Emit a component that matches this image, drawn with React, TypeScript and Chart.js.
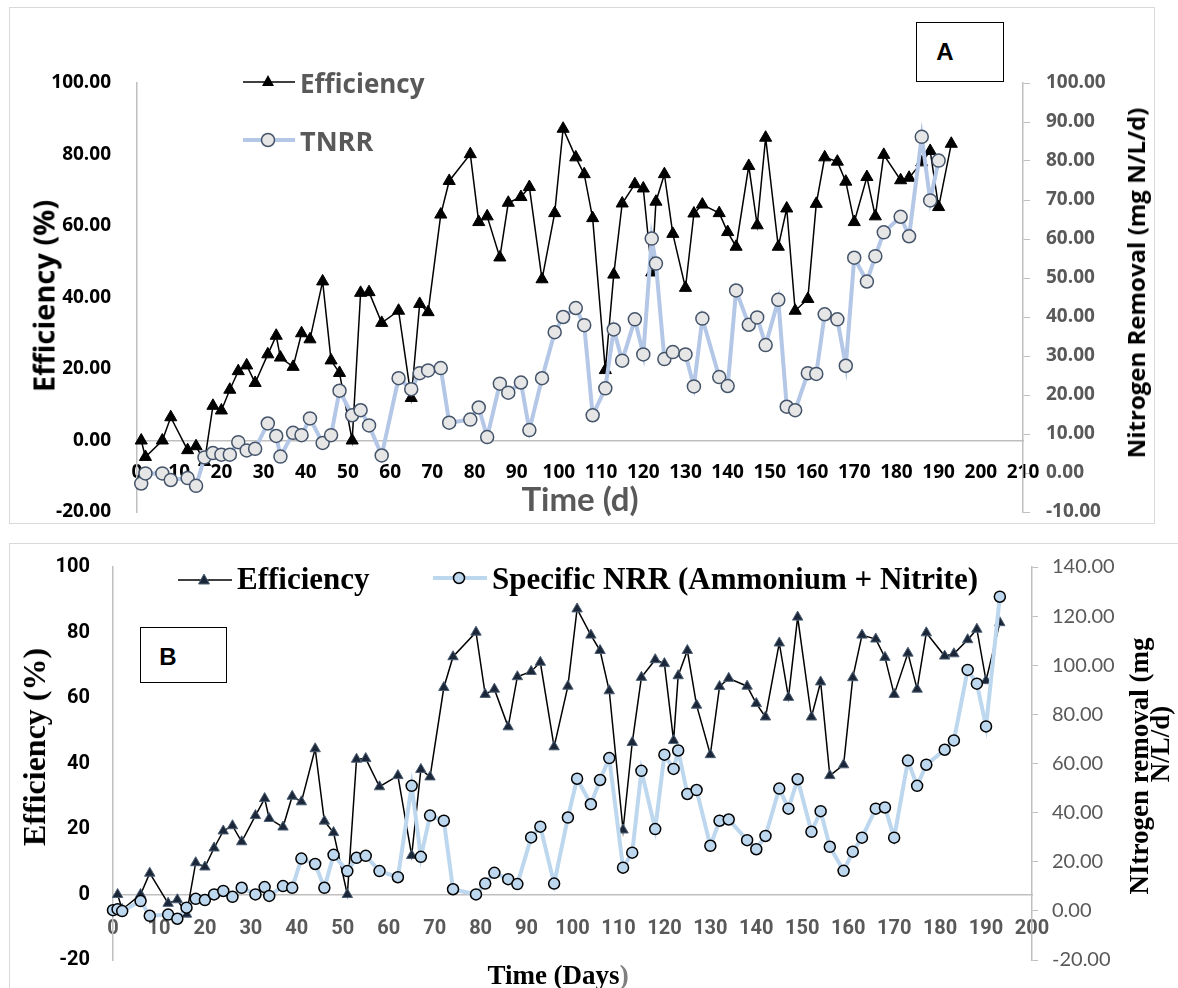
import React, { useEffect, useRef } from 'react';
import { Chart, registerables } from 'chart.js';

Chart.register(...registerables);

// ---------- data ----------
const effDays = [1, 2, 6, 8, 12, 14, 16, 18, 20, 22, 24, 26, 28, 31, 33, 34, 37, 39, 41, 44, 46, 48, 51, 53, 55, 58, 62, 65, 67, 69, 72, 74, 79, 81, 83, 86, 88, 91, 93, 96, 99, 101, 104, 106, 108, 111, 113, 115, 118, 120, 122, 123, 125, 127, 130, 132, 134, 138, 140, 142, 145, 147, 149, 152, 154, 156, 159, 161, 163, 166, 168, 170, 173, 175, 177, 181, 183, 186, 188, 190, 193];
const efficiency = [0, -4.6, 0, 6.5, -2.7, -1.6, -6, 9.7, 8.4, 14.2, 19.4, 21, 16.1, 24.1, 29.3, 23.2, 20.6, 30, 28.3, 44.5, 22.4, 18.9, 0, 41.3, 41.5, 32.9, 36.3, 11.9, 38.2, 35.9, 63.2, 72.6, 80.1, 61.1, 62.7, 51.2, 66.5, 68.1, 70.9, 45.1, 63.6, 87.2, 79.2, 74.5, 62.2, 19.7, 46.4, 66.3, 71.7, 70.5, 47, 66.8, 74.5, 57.8, 42.7, 63.5, 66, 63.6, 58.3, 54.2, 76.8, 60.2, 84.7, 54.2, 64.9, 36.3, 39.6, 66.2, 79.2, 78, 72.4, 61.1, 73.7, 62.7, 79.9, 72.8, 73.5, 77.8, 81, 65.3, 83];

const tnrrDays = [1, 2, 6, 8, 12, 14, 16, 18, 20, 22, 24, 26, 28, 31, 33, 34, 37, 39, 41, 44, 46, 48, 51, 53, 55, 58, 62, 65, 67, 69, 72, 74, 79, 81, 83, 86, 88, 91, 93, 96, 99, 101, 104, 106, 108, 111, 113, 115, 118, 120, 122, 123, 125, 127, 130, 132, 134, 138, 140, 142, 145, 147, 149, 152, 154, 156, 159, 161, 163, 166, 168, 170, 173, 175, 177, 181, 183, 186, 188, 190];
const tnrr = [-2.7, -0.1, -0.1, -1.8, -1.3, -3.3, 4, 5.1, 4.7, 4.7, 7.9, 5.8, 6.2, 12.7, 9.5, 4.2, 10.3, 9.7, 14, 7.7, 9.7, 21.1, 14.8, 16.1, 12.2, 4.5, 24.3, 21.5, 25.6, 26.3, 26.9, 12.9, 13.7, 16.8, 9.2, 22.9, 20.6, 23.2, 11, 24.3, 36.1, 40, 42.3, 37.9, 14.8, 21.7, 36.8, 28.8, 39.4, 30.4, 60.1, 53.7, 29.2, 31, 30.4, 22.2, 39.6, 24.6, 22.3, 46.8, 38, 39.9, 32.8, 44.4, 17, 16.1, 25.6, 25.4, 40.7, 39.4, 27.5, 55.2, 49.1, 55.6, 61.7, 65.7, 60.7, 86.2, 69.9, 80.1];

const snrrDays = [0, 1, 2, 6, 8, 12, 14, 16, 18, 20, 22, 24, 26, 28, 31, 33, 34, 37, 39, 41, 44, 46, 48, 51, 53, 55, 58, 62, 65, 67, 69, 72, 74, 79, 81, 83, 86, 88, 91, 93, 96, 99, 101, 104, 106, 108, 111, 113, 115, 118, 120, 122, 123, 125, 127, 130, 132, 134, 138, 140, 142, 145, 147, 149, 152, 154, 156, 159, 161, 163, 166, 168, 170, 173, 175, 177, 181, 183, 186, 188, 190, 193];
const snrr = [0.3, 0.7, -0.1, 4, -2, -1.5, -3.2, 1.3, 4.9, 4.4, 6.7, 8.1, 5.7, 9.4, 6.7, 9.7, 6.1, 10.1, 9.4, 21.3, 19.1, 9.4, 22.8, 16.2, 21.6, 22.4, 16.2, 13.7, 50.9, 22, 38.8, 36.7, 8.8, 6.7, 11.1, 15.5, 12.9, 10.9, 29.9, 34.3, 11.1, 38, 53.8, 43.4, 53.3, 62.2, 17.6, 23.7, 57, 33.3, 63.6, 57.8, 65.3, 47.6, 49.2, 26.5, 36.7, 37.2, 28.8, 25.1, 30.5, 49.8, 41.6, 53.6, 32.2, 40.6, 26.1, 16.3, 24.1, 29.8, 41.6, 42.1, 29.8, 61.2, 50.9, 59.5, 65.6, 69.4, 98.1, 92.5, 75.1, 127.9];

const xTicksA = [0, 10, 20, 30, 40, 50, 60, 70, 80, 90, 100, 110, 120, 130, 140, 150, 160, 170, 180, 190, 200, 210];
const yLeftTicksA = [-20, 0, 20, 40, 60, 80, 100];
const yRightTicksA = [-10, 0, 10, 20, 30, 40, 50, 60, 70, 80, 90, 100];
const xTicksB = [0, 10, 20, 30, 40, 50, 60, 70, 80, 90, 100, 110, 120, 130, 140, 150, 160, 170, 180, 190, 200];
const yLeftTicksB = [-20, 0, 20, 40, 60, 80, 100];
const yRightTicksB = [-20, 0, 20, 40, 60, 80, 100, 120, 140];

// ---------- helpers ----------
const pts = (xs: number[], ys: number[]) => xs.map((x, i) => ({ x, y: ys[i] }));
const setTicks = (vals: number[]) => (scale: any) => {
  scale.ticks = vals.map((v) => ({ value: v }));
};
const GRAY_AXIS = '#BFBFBF';
const CAL = 'Lato, "Open Sans", sans-serif';
const OPEN = '"Open Sans", sans-serif';
const ROBO = 'Roboto, sans-serif';
const SERIF = '"Liberation Serif", "DejaVu Serif", serif';

function makeChartA(canvas: HTMLCanvasElement) {
  return new Chart(canvas, {
    type: 'scatter',
    data: {
      datasets: [
        {
          label: 'Efficiency',
          data: pts(effDays, efficiency),
          yAxisID: 'y',
          showLine: true,
          borderColor: '#000',
          borderWidth: 1.5,
          pointStyle: 'triangle',
          pointRadius: 7,
          pointBackgroundColor: '#000',
          pointBorderColor: '#000',
          pointBorderWidth: 1,
          clip: false,
          order: 1,
        },
        {
          label: 'TNRR',
          data: pts(tnrrDays, tnrr),
          yAxisID: 'y1',
          showLine: true,
          borderColor: '#B4C7E7',
          borderWidth: 4,
          pointStyle: 'circle',
          pointRadius: 6.5,
          pointBackgroundColor: '#E7E6E6',
          pointBorderColor: '#44546A',
          pointBorderWidth: 1.5,
          clip: false,
          order: 0,
        },
      ],
    } as any,
    options: {
      responsive: false,
      animation: false,
      events: [],
      layout: { padding: { top: 76, bottom: 41, left: 0, right: 0 } },
      plugins: { legend: { display: false }, tooltip: { enabled: false } },
      scales: {
        x: {
          type: 'linear',
          position: { y: 0 } as any,
          min: 0,
          max: 210,
          afterBuildTicks: setTicks(xTicksA),
          grid: { display: false },
          border: { display: true, color: GRAY_AXIS, width: 1.5 },
          ticks: {
            autoSkip: false,
            maxRotation: 0,
            padding: 13,
            color: '#000',
            font: { family: OPEN, size: 19, weight: 'bold' },
            callback: (v: any) => String(v),
          },
        },
        y: {
          type: 'linear',
          position: 'left',
          min: -20,
          max: 100,
          afterBuildTicks: setTicks(yLeftTicksA),
          afterFit: (s: any) => {
            s.width = 128;
          },
          grid: { display: false },
          border: { display: true, color: GRAY_AXIS, width: 1.5 },
          ticks: {
            padding: 18,
            color: '#000',
            font: { family: OPEN, size: 19, weight: 'bold' },
            callback: (v: any) => Number(v).toFixed(2),
          },
        },
        y1: {
          type: 'linear',
          position: 'right',
          min: -10,
          max: 100,
          afterBuildTicks: setTicks(yRightTicksA),
          afterFit: (s: any) => {
            s.width = 132;
          },
          grid: { display: true, drawOnChartArea: false, drawTicks: true, tickLength: 7, color: GRAY_AXIS, lineWidth: 1 },
          border: { display: true, color: GRAY_AXIS, width: 1.5 },
          ticks: {
            padding: 16,
            color: '#595959',
            font: { family: OPEN, size: 19, weight: 'bold' },
            callback: (v: any) => Number(v).toFixed(2),
          },
        },
      },
    } as any,
  });
}

function makeChartB(canvas: HTMLCanvasElement) {
  return new Chart(canvas, {
    type: 'scatter',
    data: {
      datasets: [
        {
          label: 'Efficiency',
          data: pts(effDays, efficiency),
          yAxisID: 'y',
          showLine: true,
          borderColor: '#000',
          borderWidth: 1.5,
          pointStyle: 'triangle',
          pointRadius: 6,
          pointBackgroundColor: '#1B2738',
          pointBorderColor: '#4E6076',
          pointBorderWidth: 1,
          clip: false,
          order: 1,
        },
        {
          label: 'Specific NRR (Ammonium + Nitrite)',
          data: pts(snrrDays, snrr),
          yAxisID: 'y1',
          showLine: true,
          borderColor: '#BDD7EE',
          borderWidth: 4,
          pointStyle: 'circle',
          pointRadius: 5.5,
          pointBackgroundColor: '#BDD7EE',
          pointBorderColor: '#000',
          pointBorderWidth: 1.5,
          clip: false,
          order: 0,
        },
      ],
    } as any,
    options: {
      responsive: false,
      animation: false,
      events: [],
      layout: { padding: { top: 36, bottom: 41, left: 0, right: 0 } },
      plugins: { legend: { display: false }, tooltip: { enabled: false } },
      scales: {
        x: {
          type: 'linear',
          position: { y: 0 } as any,
          min: 0,
          max: 200,
          afterBuildTicks: setTicks(xTicksB),
          grid: { display: false },
          border: { display: true, color: GRAY_AXIS, width: 1.5 },
          ticks: {
            autoSkip: false,
            maxRotation: 0,
            padding: 14,
            color: '#595959',
            font: { family: ROBO, size: 20, weight: 'bold' },
            callback: (v: any) => String(v),
          },
        },
        y: {
          type: 'linear',
          position: 'left',
          min: -20,
          max: 100,
          afterBuildTicks: setTicks(yLeftTicksB),
          afterFit: (s: any) => {
            s.width = 104;
          },
          grid: { display: false },
          border: { display: true, color: GRAY_AXIS, width: 1.5 },
          ticks: {
            padding: 15,
            color: '#000',
            font: { family: ROBO, size: 20, weight: 'bold' },
            callback: (v: any) => String(v),
          },
        },
        y1: {
          type: 'linear',
          position: 'right',
          min: -20,
          max: 140,
          afterBuildTicks: setTicks(yRightTicksB),
          afterFit: (s: any) => {
            s.width = 146;
          },
          grid: { display: true, drawOnChartArea: false, drawTicks: true, tickLength: 6, color: GRAY_AXIS, lineWidth: 1 },
          border: { display: true, color: GRAY_AXIS, width: 1.5 },
          ticks: {
            padding: 14,
            color: '#595959',
            font: { family: CAL, size: 20, weight: 'normal' },
            callback: (v: any) => Number(v).toFixed(2),
          },
        },
      },
    } as any,
  });
}

// ---------- text helpers ----------
const abs = (s: React.CSSProperties): React.CSSProperties => ({ position: 'absolute', whiteSpace: 'nowrap', lineHeight: 1, ...s });

function VText(props: { cx: number; cy: number; font: string; size: number; color: string; children: React.ReactNode }) {
  return (
    <div
      style={abs({
        left: props.cx,
        top: props.cy,
        transform: 'translate(-50%, -50%) rotate(-90deg)',
        fontFamily: props.font,
        fontSize: props.size,
        fontWeight: 'bold',
        color: props.color,
      })}
    >
      {props.children}
    </div>
  );
}

function HText(props: { left?: number; cx?: number; cy: number; font: string; size: number; color: string; children: React.ReactNode }) {
  const centered = props.cx !== undefined;
  return (
    <div
      style={abs({
        left: centered ? props.cx : props.left,
        top: props.cy,
        transform: centered ? 'translate(-50%, -50%)' : 'translateY(-50%)',
        fontFamily: props.font,
        fontSize: props.size,
        fontWeight: 'bold',
        color: props.color,
      })}
    >
      {props.children}
    </div>
  );
}

export default function App() {
  const refA = useRef<HTMLCanvasElement>(null);
  const refB = useRef<HTMLCanvasElement>(null);

  useEffect(() => {
    const a = makeChartA(refA.current!);
    const b = makeChartB(refB.current!);
    return () => {
      a.destroy();
      b.destroy();
    };
  }, []);

  return (
    <div style={{ position: 'absolute', left: 0, top: 0, width: 1178, height: 988, overflow: 'hidden', background: '#fff' }}>
      {/* panel borders */}
      <div style={{ position: 'absolute', left: 9, top: 7, width: 1146, height: 517, border: '1px solid #D9D9D9', boxSizing: 'border-box' }} />
      <div style={{ position: 'absolute', left: 9, top: 543, width: 1200, height: 500, border: '1px solid #D9D9D9', boxSizing: 'border-box' }} />

      {/* Panel A */}
      <canvas ref={refA} width={1146} height={546} style={{ position: 'absolute', left: 9, top: 7, width: 1146, height: 546 }} />
      <VText cx={43} cy={296} font={OPEN} size={29} color="#000">Efficiency (%)</VText>
      <VText cx={1136} cy={283} font={OPEN} size={24} color="#000">Nitrogen Removal (mg N/L/d)</VText>
      <HText cx={580} cy={498} font={CAL} size={33} color="#595959">Time (d)</HText>

      <svg style={{ position: 'absolute', left: 240, top: 70 }} width={58} height={24}>
        <line x1={3} y1={12} x2={55} y2={12} stroke="#000" strokeWidth={1.5} />
        <polygon points="28,5 34,16 22,16" fill="#000" />
      </svg>
      <HText left={300} cy={83} font={OPEN} size={26} color="#595959">Efficiency</HText>
      <svg style={{ position: 'absolute', left: 240, top: 128 }} width={58} height={24}>
        <line x1={3} y1={12} x2={55} y2={12} stroke="#B4C7E7" strokeWidth={4} />
        <circle cx={28} cy={12} r={6.5} fill="#E7E6E6" stroke="#44546A" strokeWidth={1.5} />
      </svg>
      <HText left={300} cy={140} font={OPEN} size={27} color="#595959">TNRR</HText>

      <div style={{ position: 'absolute', left: 916, top: 22, width: 88, height: 60, border: '1px solid #000', boxSizing: 'border-box', background: '#fff' }} />
      <HText cx={945} cy={52} font={'"Liberation Sans", Arial, sans-serif'} size={24} color="#000">A</HText>

      {/* Panel B */}
      <canvas ref={refB} width={1169} height={470} style={{ position: 'absolute', left: 9, top: 531, width: 1169, height: 470 }} />
      <VText cx={34} cy={747} font={SERIF} size={32} color="#000">Efficiency (%)</VText>
      <VText cx={1139} cy={766} font={SERIF} size={27} color="#000">NItrogen removal (mg</VText>
      <VText cx={1160} cy={744} font={SERIF} size={27} color="#000">N/L/d)</VText>
      <HText cx={558} cy={975} font={SERIF} size={27} color="#000">
        Time (Days<span style={{ color: '#7F7F7F' }}>)</span>
      </HText>

      <svg style={{ position: 'absolute', left: 176, top: 568 }} width={58} height={24}>
        <line x1={2} y1={12} x2={56} y2={12} stroke="#000" strokeWidth={1.5} />
        <polygon points="28,6 33.5,16 22.5,16" fill="#1B2738" stroke="#4E6076" strokeWidth={1} />
      </svg>
      <HText left={237} cy={578} font={SERIF} size={31} color="#000">Efficiency</HText>
      <svg style={{ position: 'absolute', left: 430, top: 566 }} width={60} height={24}>
        <line x1={3} y1={12} x2={57} y2={12} stroke="#BDD7EE" strokeWidth={4} />
        <circle cx={29} cy={12} r={5.5} fill="#BDD7EE" stroke="#000" strokeWidth={1.5} />
      </svg>
      <HText left={492} cy={578} font={SERIF} size={31} color="#000">Specific NRR (Ammonium + Nitrite)</HText>

      <div style={{ position: 'absolute', left: 140, top: 627, width: 87, height: 56, border: '1px solid #000', boxSizing: 'border-box', background: '#fff' }} />
      <HText cx={168} cy={657} font={'"Liberation Sans", Arial, sans-serif'} size={24} color="#000">B</HText>
    </div>
  );
}
